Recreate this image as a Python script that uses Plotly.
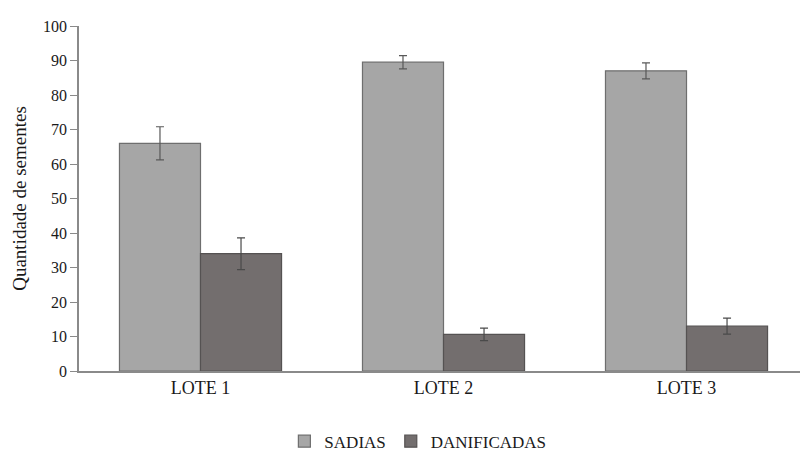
import plotly.graph_objects as go

lotes = ["LOTE 1", "LOTE 2", "LOTE 3"]
sadias = [66.0, 89.5, 87.0]
sadias_err = [4.8, 1.9, 2.3]
danificadas = [34.0, 10.6, 13.0]
danificadas_err = [4.6, 1.8, 2.3]
y_ticks = [0, 10, 20, 30, 40, 50, 60, 70, 80, 90, 100]

font_family = "Liberation Serif"
edge = "#6e6e6e"

fig = go.Figure()
fig.add_trace(go.Bar(
    name="SADIAS", x=lotes, y=sadias,
    marker=dict(color="#a6a6a6", line=dict(color=edge, width=1.2)),
    error_y=dict(type="data", array=sadias_err, color="#595959", thickness=1.2, width=4),
))
fig.add_trace(go.Bar(
    name="DANIFICADAS", x=lotes, y=danificadas,
    marker=dict(color="#736e6e", line=dict(color="#555252", width=1.2)),
    error_y=dict(type="data", array=danificadas_err, color="#4a4a4a", thickness=1.2, width=4),
))

fig.update_layout(
    width=800, height=453,
    margin=dict(l=79, r=0, t=26, b=82, autoexpand=False),
    paper_bgcolor="white", plot_bgcolor="white",
    barmode="group", bargap=0.333, bargroupgap=0,
    font=dict(family=font_family, color="#1a1a1a", size=16),
    showlegend=True,
    legend=dict(orientation="h", x=0.47, xanchor="center",
                yref="container", y=0.025, yanchor="middle",
                font=dict(size=17, family=font_family, color="#1a1a1a"),
                itemwidth=30, traceorder="normal"),
    xaxis=dict(range=[-0.5, 2.467], showline=True, linecolor="#8a8a8a", linewidth=1.5,
               ticks="", tickfont=dict(size=18), showgrid=False, zeroline=False),
    yaxis=dict(range=[0, 100], tickvals=y_ticks, showline=True, linecolor="#8a8a8a",
               linewidth=1.5, ticks="outside", ticklen=7, tickcolor="#8a8a8a",
               tickfont=dict(size=16), showgrid=False, zeroline=False,
               title=dict(text="Quantidade de sementes", font=dict(size=19), standoff=11)),
)

fig.write_html("out.html")
